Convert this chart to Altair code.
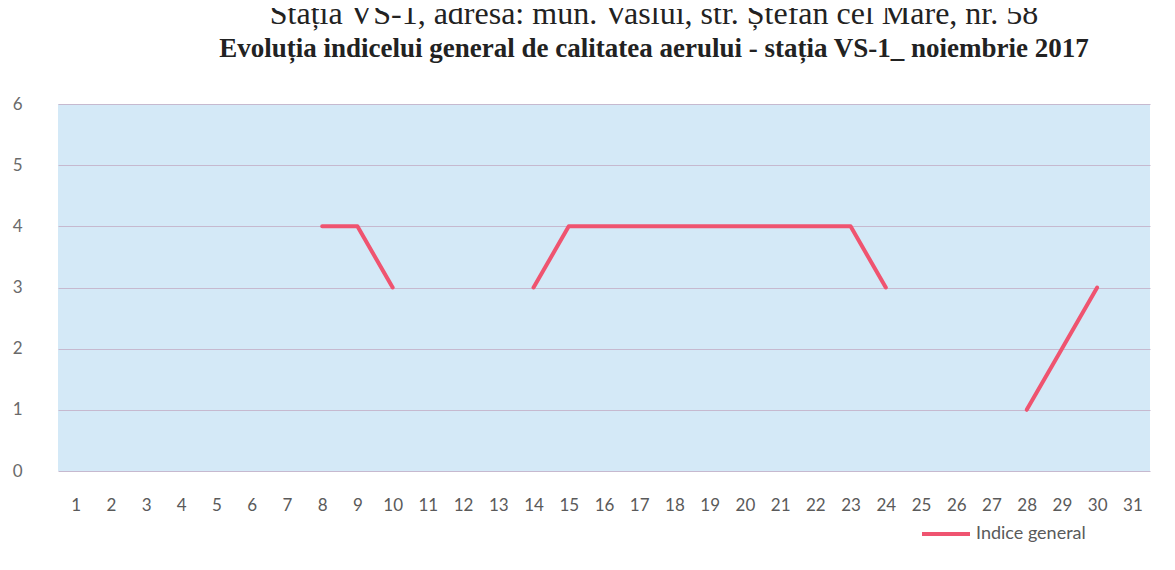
import altair as alt
import pandas as pd

days = list(range(1, 32))
values = [None, None, None, None, None, None, None, 4, 4, 3,
          None, None, None, 3, 4, 4, 4, 4, 4, 4,
          4, 4, 4, 3, None, None, None, 1, 2, 3, None]
series_name = "Indice general"
y_ticks = [0, 1, 2, 3, 4, 5, 6]
header = "Stația VS-1, adresa: mun. Vaslui, str. Ștefan cel Mare, nr. 58"
chart_title = "Evoluția indicelui general de calitatea aerului - stația VS-1_ noiembrie 2017"

rows = []
seg = 0
prev = None
for d, v in zip(days, values):
    if v is not None:
        if prev is None:
            seg += 1
        rows.append({"zi": str(d), "valoare": v, "segment": seg, "serie": series_name})
    prev = v
df = pd.DataFrame(rows)

line = alt.Chart(df).mark_line(strokeWidth=4, strokeCap="round", strokeJoin="round").encode(
    x=alt.X("zi:O", sort=[str(d) for d in days],
            scale=alt.Scale(domain=[str(d) for d in days]),
            axis=alt.Axis(title=None, labelAngle=0, domain=False, ticks=False,
                          labelPadding=26, labelFontSize=17, labelFont="Lato",
                          labelColor="#5a5a5a", grid=False)),
    y=alt.Y("valoare:Q", scale=alt.Scale(domain=[0, 6], nice=False),
            axis=alt.Axis(title=None, values=y_ticks, domain=False, ticks=False,
                          labelPadding=36, labelFontSize=17, labelFont="Lato",
                          labelColor="#6a6a6a", gridColor="#c6b9cf", gridWidth=1.2,
                          labelAlign="right")),
    color=alt.Color("serie:N", scale=alt.Scale(range=["#ef5470"]),
                    legend=alt.Legend(title=None, orient="none", legendX=862, legendY=404,
                                      symbolType="stroke", symbolSize=2304,
                                      symbolStrokeWidth=4, labelFont="Lato",
                                      labelFontSize=18, labelColor="#5a5a5a",
                                      labelOffset=4)),
    detail="segment:N",
)

chart = line.properties(
    width=1092, height=367,
    padding={"left": 50, "top": 96, "right": 15, "bottom": 85},
    autosize=alt.AutoSizeParams(type="none"),
    background="white",
    title=alt.TitleParams(
        text=header, subtitle=chart_title,
        font="Liberation Serif", fontSize=32, fontWeight="normal", color="#222222",
        subtitleFont="Liberation Serif", subtitleFontSize=27, subtitleFontWeight="bold",
        subtitleColor="#222222", subtitlePadding=5, anchor="middle", dx=50, offset=32,
    ),
).configure_view(fill="#d4e9f7", stroke=None)

chart.save("out.html", embed_options={"renderer": "svg", "actions": False})
